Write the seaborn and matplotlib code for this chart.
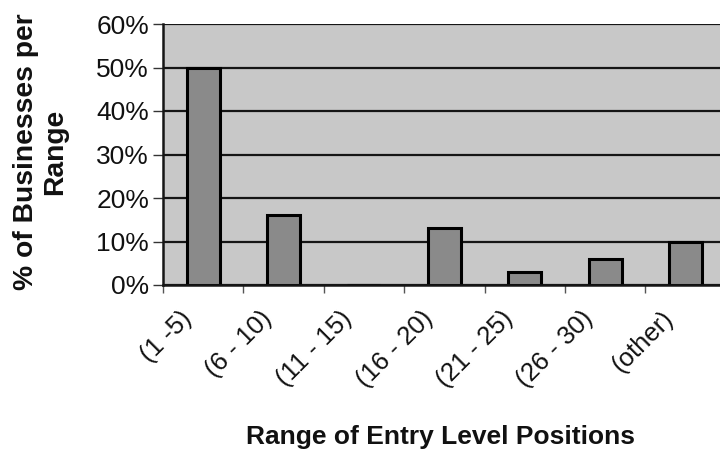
import matplotlib
matplotlib.use("Agg")
import matplotlib.pyplot as plt
import matplotlib.transforms as mtransforms
import seaborn as sns
import pandas as pd
import numpy as np
from matplotlib.ticker import FixedLocator, PercentFormatter

categories = ["(1 -5)", "(6 - 10)", "(11 - 15)", "(16 - 20)", "(21 - 25)", "(26 - 30)", "(other)"]
values = [50, 16, 0, 13, 3, 6, 10]
y_ticks = [0, 10, 20, 30, 40, 50, 60]

sns.set_theme(style="white")
plt.rcParams["font.family"] = ["Liberation Sans", "DejaVu Sans"]

df = pd.DataFrame({"range": categories, "pct": values})

fig = plt.figure(figsize=(7.2, 4.5), dpi=100)
ax = fig.add_axes([163/720, 1 - 285/450, 1 - 163/720, (285 - 24)/450])
ax.set_facecolor("#c8c8c8")

sns.barplot(data=df, x="range", y="pct", ax=ax, color="#8a8a8a", saturation=1,
            edgecolor="black", linewidth=2.2, width=0.41, zorder=3)

ax.set_ylim(0, 60)
ax.set_xlim(-0.5, 6.43)
ax.set_yticks(y_ticks)
ax.yaxis.set_major_formatter(PercentFormatter(decimals=0))
ax.grid(axis="y", color="#151515", linewidth=1.6, zorder=1)
ax.grid(axis="x", visible=False)
ax.set_axisbelow(True)

for s in ["top", "right"]:
    ax.spines[s].set_visible(False)
for s in ["left", "bottom"]:
    ax.spines[s].set_color("#151515")
    ax.spines[s].set_linewidth(1.8)
    ax.spines[s].set_zorder(4)

ax.tick_params(axis="y", which="major", length=7, width=1.0, color="#333333",
               labelsize=19, pad=3, left=True, labelcolor="#111111")
ax.tick_params(axis="x", which="major", length=0, labelsize=18.5, pad=15.5, labelcolor="#111111")
ax.xaxis.set_minor_locator(FixedLocator(np.arange(-0.5, 7.0, 1.0)))
ax.tick_params(axis="x", which="minor", length=6, width=1.0, color="#555555", bottom=True)

offset = mtransforms.ScaledTranslation(-7/100, 0, fig.dpi_scale_trans)
for lab in ax.get_xticklabels():
    lab.set_rotation(45)
    lab.set_ha("right")
    lab.set_va("top")
    lab.set_transform(lab.get_transform() + offset)

ax.set_xlabel("")
ax.set_ylabel("")
fig.text(440/720, 1 - 437/450, "Range of Entry Level Positions", ha="center", va="center",
         fontsize=19, fontweight="bold", color="#111111")
fig.text(41/720, 1 - 152/450, "% of Businesses per\nRange", ha="center", va="center",
         rotation=90, fontsize=20.3, fontweight="bold", color="#111111", linespacing=1.15,
         multialignment="center")

fig.savefig("out.png", dpi=100)
